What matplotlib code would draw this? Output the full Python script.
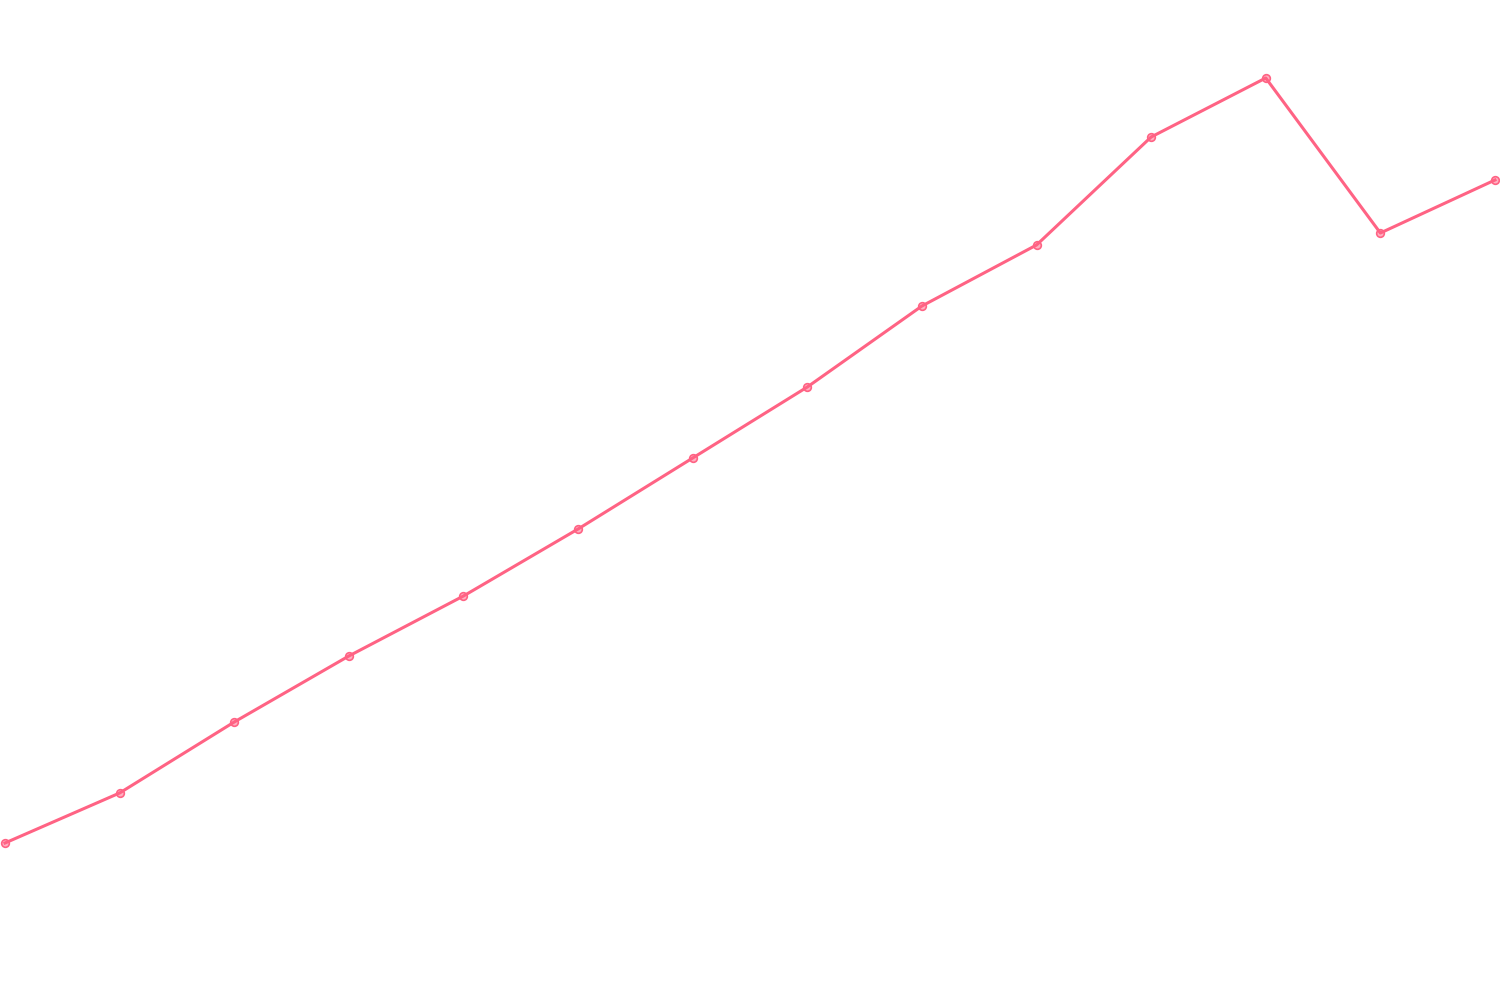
import matplotlib
matplotlib.use("Agg")
import matplotlib.pyplot as plt
import numpy as np

# values (no axis labels shown, so arbitrary units)
labels = list(range(14))
values = [157, 207, 278, 344, 404, 471, 542, 613, 694, 755, 863, 922, 767, 820]

line_color = '#FF6384'

fig = plt.figure(figsize=(15, 10), dpi=100)
ax = fig.add_axes([0, 0, 1, 1])

ax.plot(labels, values, color=line_color, linewidth=2.2, zorder=2)
ax.plot(labels, values, linestyle='none', marker='o', markersize=5.5,
        markerfacecolor=(1, 0.39, 0.52, 0.5), markeredgecolor=line_color,
        markeredgewidth=1.2, zorder=3)

# keep the end points just inside the frame
pad = 5 / 114.6
ax.set_xlim(-pad, 13 + pad)
ax.set_ylim(0, 1000)
ax.axis('off')

fig.savefig('out.png', dpi=100, facecolor='white')
